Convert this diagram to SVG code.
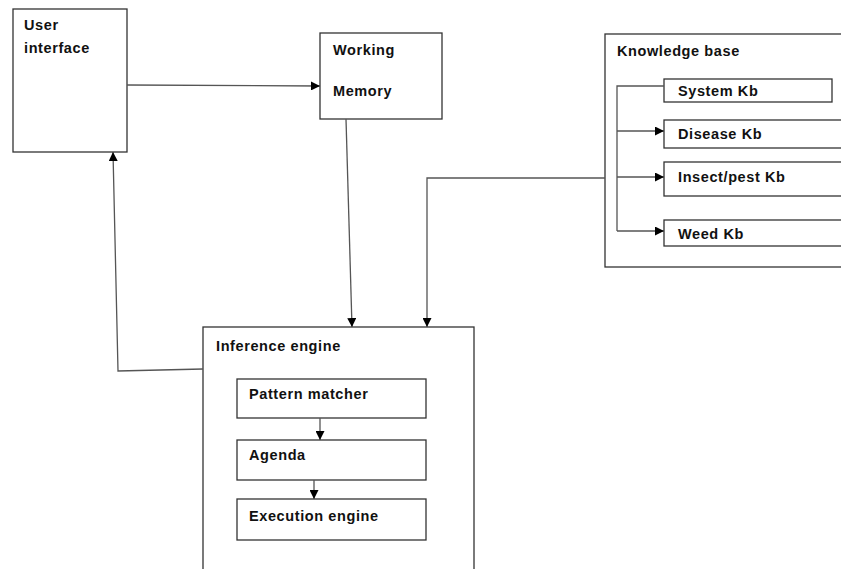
<svg xmlns="http://www.w3.org/2000/svg" width="841" height="569" viewBox="0 0 841 569">
  <style>
    .box { fill: #ffffff; stroke: #333333; stroke-width: 1.3; }
    .lbl { font-family: "Liberation Sans", Arial, sans-serif; font-weight: bold; font-size: 14.5px; letter-spacing: 0.6px; fill: #111111; }
    .conn { fill: none; stroke: #555555; stroke-width: 1.3; }
  </style>
  <defs>
    <marker id="arr" viewBox="0 0 10 10" refX="10" refY="5" markerWidth="9" markerHeight="9" markerUnits="userSpaceOnUse" orient="auto">
      <path d="M0,0 L10,5 L0,10 z" fill="#000000"/>
    </marker>
  </defs>

  <rect width="841" height="569" fill="#ffffff"/>

  <g id="user-interface">
    <rect class="box" x="13" y="9" width="114" height="143"/>
    <text class="lbl" x="24" y="30">User</text>
    <text class="lbl" x="24" y="53">interface</text>
  </g>

  <g id="working-memory">
    <rect class="box" x="320" y="33" width="122" height="86"/>
    <text class="lbl" x="333" y="55">Working</text>
    <text class="lbl" x="333" y="96">Memory</text>
  </g>

  <g id="knowledge-base">
    <rect class="box" x="605" y="34" width="250" height="233"/>
    <text class="lbl" x="617" y="56">Knowledge base</text>
  </g>

  <g id="system-kb">
    <rect class="box" x="664" y="79" width="168" height="23"/>
    <text class="lbl" x="678" y="96">System Kb</text>
  </g>

  <g id="disease-kb">
    <rect class="box" x="664" y="120" width="190" height="28"/>
    <text class="lbl" x="678" y="139">Disease Kb</text>
  </g>

  <g id="insect-pest-kb">
    <rect class="box" x="664" y="162" width="190" height="34"/>
    <text class="lbl" x="678" y="182">Insect/pest Kb</text>
  </g>

  <g id="weed-kb">
    <rect class="box" x="664" y="220" width="190" height="26"/>
    <text class="lbl" x="678" y="239">Weed Kb</text>
  </g>

  <g id="inference-engine">
    <rect class="box" x="203" y="327" width="271" height="260"/>
    <text class="lbl" x="216" y="351">Inference engine</text>
  </g>

  <g id="pattern-matcher">
    <rect class="box" x="237" y="379" width="189" height="39"/>
    <text class="lbl" x="249" y="399">Pattern matcher</text>
  </g>

  <g id="agenda">
    <rect class="box" x="237" y="440" width="189" height="40"/>
    <text class="lbl" x="249" y="460">Agenda</text>
  </g>

  <g id="execution-engine">
    <rect class="box" x="237" y="499" width="189" height="41"/>
    <text class="lbl" x="249" y="521">Execution engine</text>
  </g>

  <g id="connectors">
    <!-- user interface to working memory -->
    <path class="conn" d="M127,85 L320,86" marker-end="url(#arr)"/>
    <!-- working memory to inference engine -->
    <path class="conn" d="M346,119 L352,327" marker-end="url(#arr)"/>
    <!-- knowledge base to inference engine -->
    <path class="conn" d="M605,178 L427,178 L427,327" marker-end="url(#arr)"/>
    <!-- inference engine back to user interface -->
    <path class="conn" d="M203,369 L118,371 L113,152" marker-end="url(#arr)"/>
    <!-- knowledge base branch -->
    <path class="conn" d="M664,86 L617,86 L617,231"/>
    <path class="conn" d="M617,131 L664,131" marker-end="url(#arr)"/>
    <path class="conn" d="M617,177 L664,177" marker-end="url(#arr)"/>
    <path class="conn" d="M617,231 L664,231" marker-end="url(#arr)"/>
    <!-- inner inference chain -->
    <path class="conn" d="M320,418 L320,440" marker-end="url(#arr)"/>
    <path class="conn" d="M314,480 L314,499" marker-end="url(#arr)"/>
  </g>
</svg>
